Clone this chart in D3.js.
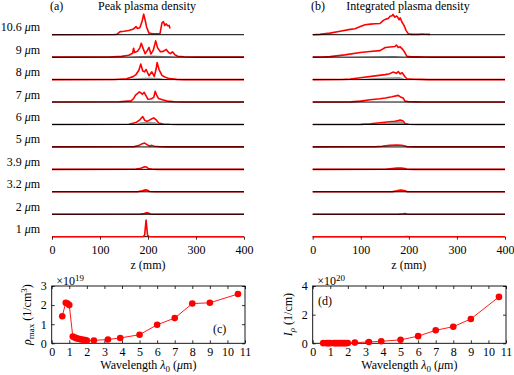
<html>

<head>
    <script src="https://d3js.org/d3.v7.min.js"></script>
    <style>
        body {
            margin: 0;
            background: #fff;
        }

        svg {
            font-family: "Liberation Serif", "DejaVu Serif", serif;
            font-size: 12px;
        }

        .axis path {
            display: none;
        }

        .axis line {
            stroke: #000;
            stroke-width: 0.8;
        }

        .axis text {
            font-family: "Liberation Serif", serif;
            font-size: 12px;
            fill: #000;
        }

        .trace {
            fill: none;
            stroke: #ff0000;
            stroke-width: 1.6;
            stroke-linejoin: round;
        }

        .base {
            stroke: #000;
            stroke-width: 1;
        }

        .shade {
            fill: #999;
        }
    </style>
</head>

<body>
    <div id="chart"></div>
    <script>
        /* row labels, wavelengths in um (top to bottom) */
        var rowLabels = ["10.6", "9", "8", "7", "6", "5", "3.9", "3.2", "2", "1"];
        var zTicks = [0, 100, 200, 300, 400];

        /* (a) peak plasma density vs z, [z mm, rho x1e19] */
        var peak106 = [[0,0],[130,0.02],[135,0.05],[142,0.4],[150,0.45],[160,0.55],[170,0.75],[175,1.05],[178,0.8],[183,0.9],[188,1.8],[191,2.65],[194,1.9],[197,1.0],[202,0.2],[210,0.12],[225,0.15],[229,1.5],[232,1.7],[235,1.2],[238,1.4],[241,1.15],[244,1.2],[246,0.8]];
        var peak9 = [[0,0],[120,0.02],[145,0.1],[160,0.25],[168,0.5],[170,1.15],[172,0.6],[178,0.75],[183,1.2],[186,1.8],[190,1.1],[194,0.45],[199,0.9],[202,1.25],[206,0.4],[211,0.9],[216,2.1],[220,1.2],[226,0.7],[232,0.75],[238,1.0],[243,0.6],[247,0.45],[251,0.7],[256,0.3],[262,0.12],[275,0.05],[290,0.01],[300,0],[400,0]];
        var peak8 = [[0,0],[130,0.02],[155,0.1],[168,0.35],[175,0.65],[181,1.2],[185,2.0],[189,1.1],[193,1.0],[196,1.3],[202,0.5],[208,1.0],[213,0.4],[217,1.4],[219,2.2],[223,1.3],[229,0.55],[236,0.3],[245,0.12],[260,0.03],[275,0],[400,0]];
        var peak7 = [[0,0],[140,0.03],[165,0.15],[170,0.45],[174,0.9],[178,1.1],[182,1.3],[185,1.2],[188,1.0],[192,1.25],[196,0.8],[200,0.35],[206,0.4],[212,0.6],[215,1.38],[218,0.9],[222,0.45],[230,0.3],[240,0.12],[255,0.03],[270,0],[400,0]];
        var peak6 = [[0,0],[160,0.03],[175,0.25],[183,0.6],[189,1.02],[193,0.55],[198,0.4],[204,0.6],[212,0.85],[217,0.6],[222,0.2],[232,0.06],[245,0.02],[260,0],[400,0]];
        var peak5 = [[0,0],[170,0.03],[182,0.2],[188,0.42],[193,0.5],[198,0.3],[203,0.12],[208,0.2],[213,0.08],[225,0.02],[240,0],[400,0]];
        var peak39 = [[0,0],[175,0.03],[185,0.15],[193,0.33],[197,0.3],[201,0.1],[210,0.02],[225,0],[400,0]];
        var peak32 = [[0,0],[180,0.03],[188,0.12],[195,0.25],[199,0.2],[203,0.05],[215,0],[400,0]];
        var peak2 = [[0,0],[185,0.03],[192,0.1],[197,0.18],[201,0.15],[205,0.04],[215,0],[400,0]];
        var peak1 = [[0,0],[190,0.02],[193,0.2],[195,1.5],[196,2.15],[197,1.5],[199,0.2],[202,0.02],[210,0],[400,0]];

        /* (b) integrated plasma density vs z, [z mm, I x1e20] */
        var int106 = [[0,0],[15,0.05],[36,0.25],[57,0.55],[78,0.85],[88,0.95],[99,1.3],[109,1.6],[120,1.7],[130,1.75],[140,1.8],[147,2.3],[152,2.5],[157,2.6],[161,2.95],[165,3.05],[167,3.25],[171,2.8],[174,3.0],[176,2.9],[180,2.4],[182,2.7],[186,1.95],[190,1.5],[194,0.7],[199,0.13],[207,0.05],[220,0.05],[227,0.1],[235,0.07],[244,0.06]];
        var int9 = [[0,0],[20,0.02],[36,0.08],[67,0.37],[99,0.75],[119,0.9],[140,1.05],[151,1.55],[171,1.7],[174,1.95],[178,1.55],[182,1.65],[188,1.17],[192,0.7],[196,0.13],[205,0.05],[220,0.06],[235,0.03],[250,0],[400,0]];
        var int8 = [[0,0],[60,0.02],[78,0.08],[99,0.3],[130,0.6],[151,0.8],[160,0.95],[167,1.2],[174,1.0],[178,1.3],[182,0.9],[186,1.12],[192,0.45],[196,0.13],[210,0.05],[225,0.04],[240,0],[400,0]];
        var int7 = [[0,0],[80,0.03],[100,0.15],[119,0.37],[140,0.52],[151,0.65],[165,0.85],[178,1.07],[181,0.9],[184,0.75],[188,0.65],[192,0.15],[200,0.05],[215,0.03],[230,0],[400,0]];
        var int6 = [[0,0],[100,0.02],[120,0.12],[140,0.27],[160,0.45],[171,0.53],[178,0.62],[182,0.7],[188,0.55],[192,0.15],[200,0.04],[215,0],[400,0]];
        var int5 = [[0,0],[130,0.02],[144,0.1],[160,0.25],[175,0.3],[185,0.28],[192,0.15],[197,0.03],[210,0],[400,0]];
        var int39 = [[0,0],[150,0.02],[161,0.1],[175,0.2],[184,0.22],[192,0.12],[197,0.02],[210,0],[400,0]];
        var int32 = [[0,0],[165,0.02],[175,0.15],[183,0.3],[190,0.2],[196,0.03],[205,0],[400,0]];
        var int2 = [[0,0],[180,0.02],[188,0.08],[192,0.12],[196,0.05],[202,0],[400,0]];
        var int1 = [[0,0],[190,0],[196,0.02],[202,0],[400,0]];

        /* grey shaded profiles under some rows */
        var shadeA9 = [[150,0],[175,0.12],[210,0.2],[245,0.12],[270,0]];
        var shadeA8 = [[150,0],[175,0.18],[200,0.28],[225,0.22],[240,0]];
        var shadeA6 = [[170,0],[185,0.3],[200,0.35],[215,0.3],[225,0]];
        var shadeB9 = [[50,0],[120,0.12],[170,0.2],[195,0]];
        var shadeB8 = [[80,0],[140,0.28],[180,0.42],[195,0]];
        var shadeB6 = [[110,0],[160,0.3],[185,0.5],[193,0]];
        var shadeB32 = [[170,0],[183,0.2],[194,0]];

        /* (c), (d) vs wavelength */
        var lambda = [0.6, 0.8, 0.9, 1.0, 1.2, 1.3, 1.4, 1.5, 1.6, 1.7, 1.8, 1.9, 2.0, 2.4, 3.2, 3.9, 5, 6, 7, 8, 9, 10.6];
        var rhoMax = [1.42, 2.12, 2.08, 2.0, 0.35, 0.3, 0.27, 0.24, 0.22, 0.2, 0.18, 0.17, 0.15, 0.15, 0.2, 0.28, 0.45, 0.97, 1.32, 2.08, 2.12, 2.58];
        var intRho = [0.01, 0.01, 0.01, 0.01, 0.01, 0.01, 0.01, 0.01, 0.01, 0.01, 0.01, 0.01, 0.02, 0.05, 0.09, 0.14, 0.24, 0.5, 0.91, 1.16, 1.7, 3.24];
        var lambdaTicks = [0, 1, 2, 3, 4, 5, 6, 7, 8, 9, 10, 11];
        var rhoTicks = [0, 1, 2, 3];
        var intTicks = [0, 2, 4];

        var peakRows = [peak106, peak9, peak8, peak7, peak6, peak5, peak39, peak32, peak2, peak1];
        var intRows = [int106, int9, int8, int7, int6, int5, int39, int32, int2, int1];
        var peakShades = [null, shadeA9, shadeA8, null, shadeA6, null, null, null, null, null];
        var intShades = [null, shadeB9, shadeB8, null, shadeB6, null, null, shadeB32, null, null];

        var width = 514;
        var height = 375;
        var red = "#ff0000";
        var fmt = d3.format("d");

        var svg = d3.select("#chart").append("svg")
            .attr("width", width)
            .attr("height", height);

        /* Scales for the stacked traces */
        var rowY = d3.scalePoint().domain(rowLabels).range([34.7, 236.7]);
        var xA = d3.scaleLinear().domain([0, 400]).range([52, 244]);
        var xB = d3.scaleLinear().domain([0, 400]).range([312.7, 505]);
        var hA = d3.scaleLinear().domain([0, 2.9]).range([0, 22.45]);
        var hB = d3.scaleLinear().domain([0, 3.6]).range([0, 22.45]);

        function styleAxis(sel) {
            sel.attr("font-family", "Liberation Serif, serif").attr("font-size", 12);
        }

        function drawRows(rows, shades, x, h) {
            var g = svg.append("g");
            rows.forEach(function(pts, i) {
                var base = rowY(rowLabels[i]);
                var last = i == rows.length - 1;
                if (shades[i]) {
                    var area = d3.area()
                        .x(d => x(d[0]))
                        .y0(base)
                        .y1(d => base - h(d[1]));
                    g.append("path").attr("class", "shade").attr("d", area(shades[i]));
                }
                var line = d3.line()
                    .x(d => x(d[0]))
                    .y(d => base - h(d[1]));
                if (last) {
                    g.append("line").attr("class", "base")
                        .attr("x1", x(0)).attr("x2", x(400))
                        .attr("y1", base).attr("y2", base);
                }
                g.append("path").attr("class", "trace").attr("d", line(pts));
                if (!last) {
                    g.append("line").attr("class", "base")
                        .attr("x1", x(0)).attr("x2", x(400))
                        .attr("y1", base).attr("y2", base);
                }
            });
            g.append("g")
                .attr("class", "axis")
                .attr("transform", `translate(0, ${rowY(rowLabels[rowLabels.length - 1])})`)
                .call(d3.axisBottom(x).tickValues(zTicks).tickFormat(fmt).tickSize(3).tickSizeOuter(0).tickPadding(6))
                .call(styleAxis);
            svg.append("text")
                .attr("x", (x(0) + x(400)) / 2)
                .attr("y", 268.5)
                .attr("text-anchor", "middle")
                .text("z (mm)");
        }

        drawRows(peakRows, peakShades, xA, hA);
        drawRows(intRows, intShades, xB, hB);

        /* row labels */
        rowLabels.forEach(function(l) {
            var t = svg.append("text")
                .attr("x", 40)
                .attr("y", rowY(l) - 3.5)
                .attr("text-anchor", "end");
            t.append("tspan").text(l + " ");
            t.append("tspan").attr("font-style", "italic").text("\u03bc");
            t.append("tspan").text("m");
        });

        /* titles */
        svg.append("text").attr("x", 50).attr("y", 9.5).text("(a)");
        svg.append("text").attr("x", 147).attr("y", 9.5).attr("text-anchor", "middle").text("Peak plasma density");
        svg.append("text").attr("x", 311).attr("y", 9.5).text("(b)");
        svg.append("text").attr("x", 408).attr("y", 9.5).attr("text-anchor", "middle").text("Integrated plasma density");

        /* bottom panels */
        function drawPanel(x0, yVals, yMax, yTickVals, exponent, tag, tagX, tagY) {
            var x = d3.scaleLinear().domain([0, 11]).range([x0, x0 + 193.3]);
            var y = d3.scaleLinear().domain([0, yMax]).range([343.3, 286]);
            var g = svg.append("g");

            g.append("g").attr("class", "axis")
                .attr("transform", "translate(0,343.3)")
                .call(d3.axisBottom(x).tickValues(lambdaTicks).tickFormat(fmt).tickSize(-3).tickSizeOuter(0).tickPadding(4))
                .call(styleAxis);
            g.append("g").attr("class", "axis")
                .attr("transform", "translate(0,286)")
                .call(d3.axisTop(x).tickValues(lambdaTicks).tickSize(-3).tickSizeOuter(0).tickFormat(""));
            g.append("g").attr("class", "axis")
                .attr("transform", `translate(${x0},0)`)
                .call(d3.axisLeft(y).tickValues(yTickVals).tickFormat(fmt).tickSize(-3).tickSizeOuter(0).tickPadding(5))
                .call(styleAxis);
            g.append("g").attr("class", "axis")
                .attr("transform", `translate(${x(11)},0)`)
                .call(d3.axisRight(y).tickValues(yTickVals).tickSize(-3).tickSizeOuter(0).tickFormat(""));

            g.append("rect")
                .attr("x", x(0)).attr("y", y(yMax))
                .attr("width", x(11) - x(0)).attr("height", y(0) - y(yMax))
                .attr("fill", "none").attr("stroke", "#000").attr("stroke-width", 0.9);

            var line = d3.line()
                .x((d, i) => x(lambda[i]))
                .y(d => y(d));
            g.append("path")
                .attr("d", line(yVals))
                .attr("fill", "none")
                .attr("stroke", red)
                .attr("stroke-width", 0.9);
            g.selectAll("circle")
                .data(yVals).enter()
                .append("circle")
                .attr("cx", (d, i) => x(lambda[i]))
                .attr("cy", d => y(d))
                .attr("r", 3.3)
                .attr("fill", red);

            var e = g.append("text").attr("x", x0 + 4.5).attr("y", 285);
            e.append("tspan").text("\u00d710");
            e.append("tspan").attr("dy", -4).attr("font-size", "9px").text(exponent);

            g.append("text").attr("x", tagX).attr("y", tagY).text(tag);

            var w = g.append("text")
                .attr("x", (x(0) + x(11)) / 2)
                .attr("y", 369)
                .attr("text-anchor", "middle");
            w.append("tspan").text("Wavelength ");
            w.append("tspan").attr("font-style", "italic").text("\u03bb");
            w.append("tspan").attr("dy", 2.5).attr("font-size", "9px").text("0");
            w.append("tspan").attr("dy", -2.5).text(" (");
            w.append("tspan").attr("font-style", "italic").text("\u03bc");
            w.append("tspan").text("m)");
            return g;
        }

        drawPanel(51.7, rhoMax, 3, rhoTicks, "19", "(c)", 213, 333);
        drawPanel(312.7, intRho, 4, intTicks, "20", "(d)", 318, 305);

        /* rotated y labels */
        var yl = svg.append("text")
            .attr("transform", "translate(31,314.6) rotate(-90)")
            .attr("text-anchor", "middle");
        yl.append("tspan").attr("font-style", "italic").text("\u03c1");
        yl.append("tspan").attr("dy", 2.5).attr("font-size", "9px").text("max");
        yl.append("tspan").attr("dy", -2.5).text(" (1/cm");
        yl.append("tspan").attr("dy", -4).attr("font-size", "9px").text("3");
        yl.append("tspan").attr("dy", 4).text(")");

        var yr = svg.append("text")
            .attr("transform", "translate(292,314.6) rotate(-90)")
            .attr("text-anchor", "middle");
        yr.append("tspan").attr("font-style", "italic").text("I");
        yr.append("tspan").attr("dy", 2.5).attr("font-size", "9px").attr("font-style", "italic").text("\u03c1");
        yr.append("tspan").attr("dy", -2.5).text(" (1/cm)");
    </script>
</body>

</html>
